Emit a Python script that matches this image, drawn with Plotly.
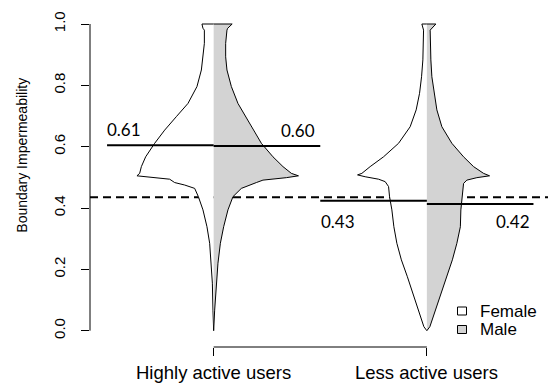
import plotly.graph_objects as go

# ---------------- data ----------------
groups = ["Highly active users", "Less active users"]
group_pos = [1, 2]

# density outlines: (value, half-width in px-like density units)
b1_female_v = [1.0, 0.986, 0.980, 0.937, 0.893, 0.850, 0.796, 0.741, 0.698, 0.654, 0.611, 0.567, 0.535, 0.513, 0.505, 0.500, 0.494, 0.483, 0.475, 0.464, 0.437, 0.394, 0.339, 0.285, 0.220, 0.155, 0.067, 0.0]
b1_female_d = [11.7, 10.7, 9.3, 9.3, 10.7, 12.3, 16.7, 25.7, 37.3, 49, 59, 68, 72.3, 74, 76.7, 60.7, 44, 39, 29, 19, 15.3, 10.7, 6.7, 4, 2.3, 1.3, 0.7, 0]
b1_male_v = [1.0, 0.986, 0.980, 0.937, 0.893, 0.850, 0.796, 0.741, 0.698, 0.654, 0.611, 0.567, 0.535, 0.513, 0.505, 0.499, 0.491, 0.483, 0.475, 0.464, 0.437, 0.394, 0.339, 0.285, 0.220, 0.155, 0.067, 0.0]
b1_male_d = [18.5, 14, 13.3, 12, 12, 13.3, 17.7, 24.3, 32, 39.3, 47.7, 59.3, 69.3, 77.7, 84.8, 72.7, 49.3, 42.7, 36, 27.7, 19.3, 14.3, 10, 6.7, 4.3, 2.7, 1, 0]
b2_female_v = [1.0, 0.980, 0.937, 0.883, 0.828, 0.774, 0.720, 0.665, 0.611, 0.567, 0.535, 0.513, 0.508, 0.502, 0.494, 0.486, 0.470, 0.437, 0.394, 0.339, 0.285, 0.231, 0.176, 0.122, 0.067, 0.013, 0.0]
b2_female_d = [5, 3.3, 3.3, 4, 5.3, 7.3, 10.7, 16.7, 28.3, 43.3, 56.7, 65, 69.3, 61.7, 48.3, 41.7, 38.3, 37.3, 35, 33, 30, 25.5, 19.5, 14, 8, 3, 0]
b2_male_v = [1.0, 0.980, 0.937, 0.883, 0.828, 0.774, 0.720, 0.665, 0.611, 0.567, 0.535, 0.513, 0.505, 0.499, 0.491, 0.480, 0.437, 0.394, 0.339, 0.285, 0.231, 0.176, 0.122, 0.067, 0.013, 0.0]
b2_male_d = [9, 3.3, 3.3, 4, 5, 7.3, 10, 15, 25, 36.7, 46.7, 56.7, 62.7, 50, 40, 36.7, 35, 34, 33.5, 30, 25.5, 20, 14.5, 9, 3, 0]

female_means = [0.605, 0.424]
male_means = [0.602, 0.413]
female_labels = ["0.61", "0.43"]
male_labels = ["0.60", "0.42"]
overall_mean = 0.435

legend_labels = ["Female", "Male"]

y_ticks = [0.0, 0.2, 0.4, 0.6, 0.8, 1.0]
y_ticktext = ["0.0", "0.2", "0.4", "0.6", "0.8", "1.0"]

# ---------------- layout helpers ----------------
W, H = 548, 383
ML, MR, MT, MB = 90, 0, 10, 36
PW, PH = W - ML - MR, H - MT - MB
PX_PER_X = 213.2
X0 = 0.42
X1 = X0 + PW / PX_PER_X
PX_PER_Y = 306.7
Y1 = 1.0 + 14.0 / PX_PER_Y
Y0 = Y1 - PH / PX_PER_Y
SCALE = 1.0 / PX_PER_X  # density -> x units

def px(xp):
    return (xp - ML) / PW

def py(yp):
    return (H - MB - yp) / PH

FEMALE_FILL = "white"
MALE_FILL = "#d3d3d3"
SANS = "Liberation Sans, Arial, sans-serif"

fig = go.Figure()

def add_half(center, vs, ds, side, fill):
    outer_x = [center + side * d * SCALE for d in ds]
    poly_x = outer_x + [center, center]
    poly_y = list(vs) + [vs[-1], vs[0]]
    fig.add_trace(go.Scatter(x=poly_x, y=poly_y, fill="toself", fillcolor=fill,
                             mode="lines", line=dict(width=0, color=fill),
                             hoverinfo="skip", showlegend=False))
    fig.add_trace(go.Scatter(x=[center] + outer_x, y=[vs[0]] + list(vs),
                             mode="lines", line=dict(width=1, color="black"),
                             hoverinfo="skip", showlegend=False))

add_half(group_pos[0], b1_female_v, b1_female_d, -1, FEMALE_FILL)
add_half(group_pos[0], b1_male_v, b1_male_d, 1, MALE_FILL)
add_half(group_pos[1], b2_female_v, b2_female_d, -1, FEMALE_FILL)
add_half(group_pos[1], b2_male_v, b2_male_d, 1, MALE_FILL)

shapes = []
# overall mean dashed line (behind beans)
shapes.append(dict(type="line", xref="paper", yref="y", x0=0, x1=1,
                   y0=overall_mean, y1=overall_mean, layer="below",
                   line=dict(color="black", width=2, dash="8px,5px")))
# group mean lines
for i, c in enumerate(group_pos):
    shapes.append(dict(type="line", xref="x", yref="y", x0=c - 0.5, x1=c,
                       y0=female_means[i], y1=female_means[i],
                       line=dict(color="black", width=2)))
    shapes.append(dict(type="line", xref="x", yref="y", x0=c, x1=c + 0.5,
                       y0=male_means[i], y1=male_means[i],
                       line=dict(color="black", width=2)))
# axis lines (R style, only spanning ticks)
shapes.append(dict(type="line", xref="paper", yref="y", x0=0, x1=0,
                   y0=y_ticks[0], y1=y_ticks[-1], line=dict(color="black", width=1)))
shapes.append(dict(type="line", xref="x", yref="paper", x0=group_pos[0], x1=group_pos[-1],
                   y0=0, y1=0, line=dict(color="black", width=1)))

annotations = []
# legend (manual, R style)
leg_font = dict(family=SANS, size=17, color="black")
for txt, yc, col in zip(legend_labels, [311.0, 329.5], [FEMALE_FILL, MALE_FILL]):
    shapes.append(dict(type="rect", xref="paper", yref="paper",
                       x0=px(457.5), x1=px(466.5), y0=py(yc + 4), y1=py(yc - 4),
                       fillcolor=col, line=dict(color="black", width=1)))
    annotations.append(dict(text=txt, xref="paper", yref="paper", x=px(478), y=py(yc),
                            showarrow=False, font=leg_font, xanchor="left", yanchor="middle"))

lab_font = dict(family="Lato, Carlito, sans-serif", size=17, color="black")
label_pos = [((124, 129), (298, 130)), ((338, 221.7), (513, 221.7))]
for i in range(2):
    (fx, fy), (mx, my) = label_pos[i]
    annotations.append(dict(text=female_labels[i], xref="paper", yref="paper",
                            x=px(fx), y=py(fy), showarrow=False, font=lab_font,
                            xanchor="center", yanchor="middle"))
    annotations.append(dict(text=male_labels[i], xref="paper", yref="paper",
                            x=px(mx), y=py(my), showarrow=False, font=lab_font,
                            xanchor="center", yanchor="middle"))
# x category labels (R-style placement below bracket axis)
for g, c in zip(groups, group_pos):
    annotations.append(dict(text=g, xref="x", yref="paper", x=c, y=py(372.5),
                            showarrow=False, font=dict(family=SANS, size=18.5, color="black"),
                            xanchor="center", yanchor="middle"))
# y title
annotations.append(dict(text="Boundary Impermeability", xref="paper", yref="paper",
                        x=px(21.7), y=py(155), showarrow=False, textangle=-90,
                        font=dict(family=SANS, size=14, color="black"),
                        xanchor="center", yanchor="middle"))

fig.update_layout(
    width=W, height=H,
    margin=dict(l=ML, r=MR, t=MT, b=MB, autoexpand=False),
    paper_bgcolor="white", plot_bgcolor="white",
    showlegend=False,
    shapes=shapes, annotations=annotations,
    xaxis=dict(range=[X0, X1], showgrid=False, zeroline=False, showline=False,
               automargin=False,
               tickvals=group_pos, ticktext=["", ""], ticks="outside", ticklen=8,
               tickwidth=1, tickcolor="black"),
    yaxis=dict(range=[Y0, Y1], showgrid=False, zeroline=False, showline=False,
               automargin=False,
               tickvals=y_ticks, ticktext=y_ticktext, ticks="outside", ticklen=8,
               tickwidth=1, tickcolor="black", tickangle=-90, ticklabelstandoff=10,
               tickfont=dict(family=SANS, size=15, color="black")),
)

fig.write_html("out.html", config={"displayModeBar": False},
               post_script="document.body.style.margin='0';document.body.style.padding='0';")
